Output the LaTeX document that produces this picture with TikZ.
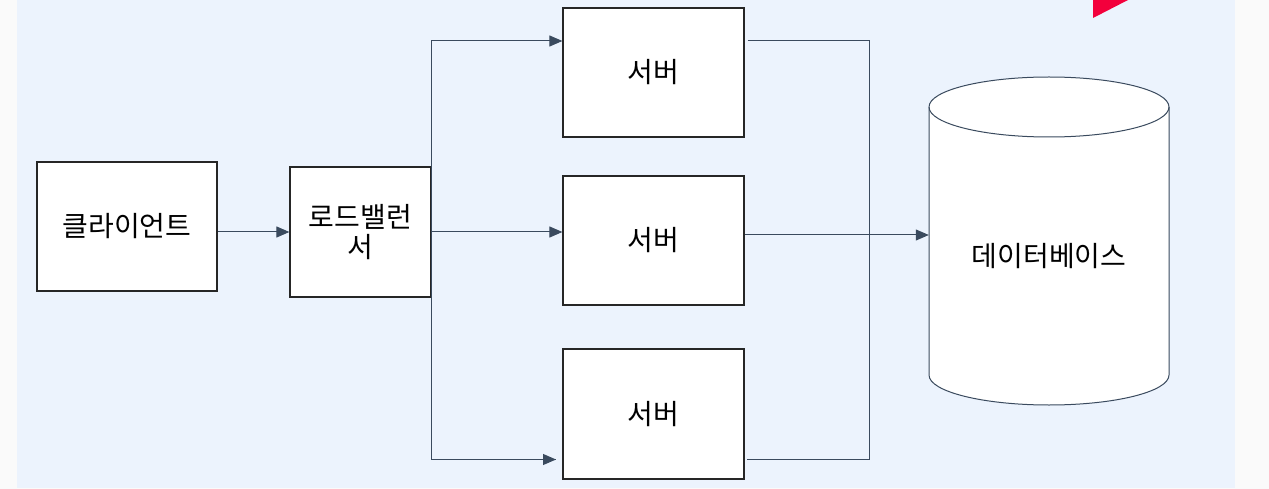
\documentclass[tikz,border=0pt]{standalone}
\usepackage{fontspec}
\setmainfont{Noto Sans CJK KR}
\usetikzlibrary{arrows.meta}
\definecolor{panel}{HTML}{ECF3FD}
\definecolor{outer}{HTML}{FAFAFA}
\definecolor{wire}{HTML}{3A4A5E}
\definecolor{boxline}{HTML}{262626}
\definecolor{accent}{HTML}{F3003C}
\tikzset{
  box/.style={draw=boxline, line width=1.2pt, fill=white, inner sep=0pt, font=\fontsize{28}{30}\selectfont, align=center},
  wire/.style={draw=wire, line width=1pt},
  arr/.style={wire, -{Triangle[length=13pt,width=11pt]}},
}
\begin{document}
\begin{tikzpicture}[x=1pt,y=-1pt]
\useasboundingbox (0,0) rectangle (1269,489);
\fill[outer] (0,0) rectangle (1269,489);
\fill[panel] (17,0) rectangle (1235,488);
\fill[accent] (1093,0) -- (1128,0) -- (1093,18) -- cycle;

\node[box, minimum width=180pt, minimum height=129pt] (client) at (127,226.5) {클라이언트};
\node[box, minimum width=141pt, minimum height=130pt] (lb) at (360.5,232) {로드밸런\\서};
\node[box, minimum width=181pt, minimum height=129pt] (s1) at (653.5,72.5) {서버};
\node[box, minimum width=181pt, minimum height=129pt] (s2) at (653.5,240.5) {서버};
\node[box, minimum width=181pt, minimum height=130pt] (s3) at (653.5,414) {서버};

% database cylinder
\draw[draw=wire, line width=1pt, fill=white]
  (929,107) -- (929,375) arc[start angle=180, end angle=0, x radius=120, y radius=30]
  -- (1169,107) arc[start angle=0, end angle=-180, x radius=120, y radius=30] -- cycle;
\draw[draw=wire, line width=1pt] (929,107) arc[start angle=180, end angle=0, x radius=120, y radius=30];
\node[inner sep=0pt, minimum width=240pt, minimum height=238pt, font=\fontsize{28}{30}\selectfont] (db) at (1049,256) {데이터베이스};

% client to load balancer
\draw[arr] (client.east |- 0,232) -- (lb.west |- 0,232);

% load balancer fan-out
\coordinate (fanT) at (431,41);
\coordinate (fanB) at (431,459.5);
\coordinate (s3in) at (556,459.5);
\draw[wire] (fanT) -- (fanB);
\draw[arr] (fanT) -- (s1.west |- fanT);
\draw[arr] (lb.east |- 0,232) -- (s2.west |- 0,232);
\draw[wire] (fanB) -- (s3in);
\draw[arr] ([xshift=-10pt]s3in) -- (s3in);

% servers to database
\coordinate (colT) at (869,41);
\coordinate (colB) at (869,459);
\draw[wire] ([xshift=3pt]s1.east |- colT) -- (colT) -- (colB) -- ([xshift=2pt]s3.east |- colB);
\draw[arr] (s2.east |- 0,235) -- (db.west |- 0,235);
\end{tikzpicture}
\end{document}
